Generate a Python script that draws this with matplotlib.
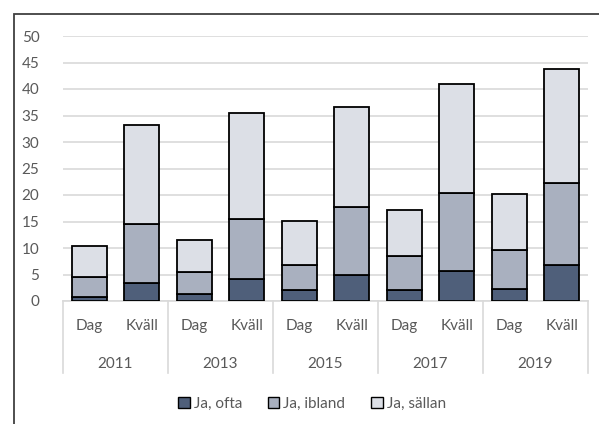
import numpy as np
import matplotlib
matplotlib.use('Agg')
import matplotlib.pyplot as plt
from matplotlib.patches import Rectangle
from matplotlib.lines import Line2D

plt.rcParams['font.family'] = ['Lato', 'DejaVu Sans']

years = ['2011', '2013', '2015', '2017', '2019']
times = ['Dag', 'Kväll']
series = ['Ja, ofta', 'Ja, ibland', 'Ja, sällan']

# cumulative tops, bars in order Dag/Kväll per year
ofta_top = [0.7, 3.45, 1.3, 4.1, 2.0, 4.9, 2.0, 5.6, 2.3, 6.7]
ibland_top = [4.6, 14.5, 5.5, 15.4, 6.7, 17.8, 8.4, 20.3, 9.6, 22.3]
total = [10.3, 33.3, 11.5, 35.4, 15.1, 36.6, 17.2, 41.0, 20.2, 43.7]

colors = ['#4f5f7a', '#a9b0bf', '#dcdfe6']
txt = '#595959'
grid = '#d9d9d9'
fs = 11

ofta = np.array(ofta_top)
ibland = np.array(ibland_top) - ofta
sallan = np.array(total) - np.array(ibland_top)

fig = plt.figure(figsize=(5.99, 4.24), dpi=100)
ax = fig.add_axes([63/599, 1 - 301/424, 525/599, 265/424])

x = np.arange(len(total))
w = 0.667
ax.bar(x, ofta, w, color=colors[0], edgecolor='black', linewidth=1.3, zorder=3)
ax.bar(x, ibland, w, bottom=ofta, color=colors[1], edgecolor='black', linewidth=1.3, zorder=3)
ax.bar(x, sallan, w, bottom=ofta + ibland, color=colors[2], edgecolor='black', linewidth=1.3, zorder=3)

ax.set_xlim(-0.5, len(total) - 0.5)
ax.set_ylim(0, 50)
ax.set_yticks(np.arange(0, 51, 5))
ax.yaxis.grid(True, color=grid, linewidth=1.2)
ax.set_axisbelow(True)
for s in ['top', 'right', 'left']:
    ax.spines[s].set_visible(False)
ax.spines['bottom'].set_color(grid)
ax.spines['bottom'].set_linewidth(1.2)
ax.tick_params(axis='y', length=0, pad=17, colors=txt, labelsize=fs)
ax.tick_params(axis='x', length=0)
ax.set_xticks([])

# two-level category axis
for i in range(len(total)):
    ax.text(x[i], -4.7, times[i % 2], ha='center', va='center', color=txt, fontsize=fs)
for j, yr in enumerate(years):
    ax.text(2 * j + 0.5, -11.8, yr, ha='center', va='center', color=txt, fontsize=fs)
for j in range(len(years) + 1):
    ax.add_line(Line2D([2 * j - 0.5, 2 * j - 0.5], [0, -13.6], color=grid, linewidth=1.2, clip_on=False))

# outer chart border
fig.add_artist(Rectangle((14/599, -0.1), 1.2, 1 - 14/424 + 0.1, transform=fig.transFigure,
                         fill=False, edgecolor='#404040', linewidth=1.3, clip_on=False))

handles = [Rectangle((0, 0), 1, 1, facecolor=c, edgecolor='black', linewidth=1.0) for c in colors]
fig.legend(handles, series, loc='center', bbox_to_anchor=(312/599, 1 - 404/424), ncol=3,
           frameon=False, fontsize=fs, labelcolor=txt, handlelength=0.75, handleheight=0.75,
           handletextpad=0.25, columnspacing=1.7)

fig.savefig('out.png', dpi=100)
